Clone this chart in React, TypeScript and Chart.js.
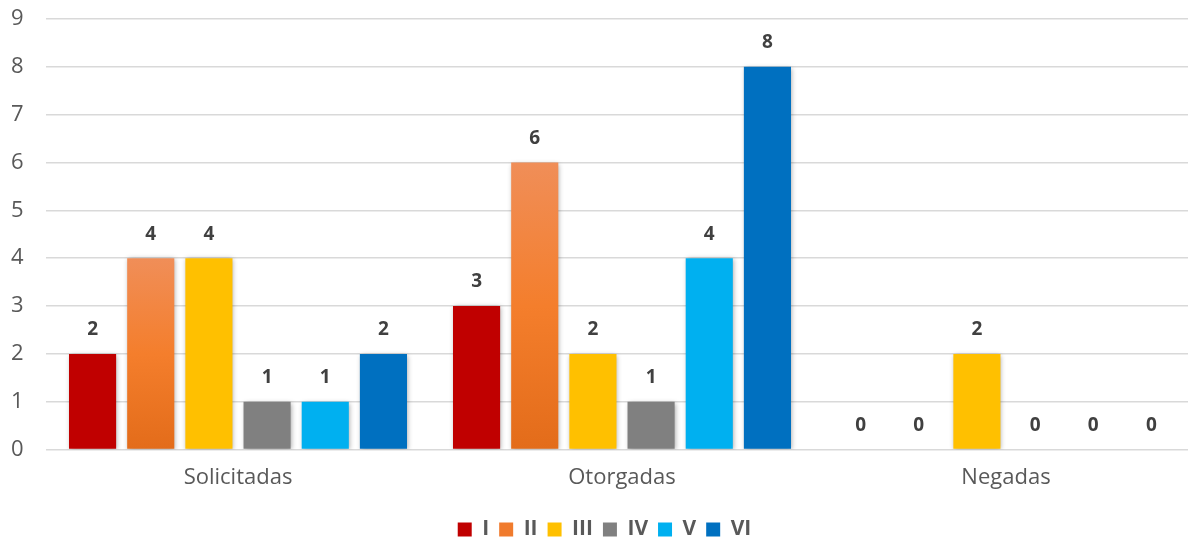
import React, { useEffect, useRef } from 'react';
import { Chart, ChartConfiguration, registerables, Plugin } from 'chart.js';

Chart.register(...registerables);

// Categories and series
const categories = ['Solicitadas', 'Otorgadas', 'Negadas'];
const seriesLabels = ['I', 'II', 'III', 'IV', 'V', 'VI'];
const serieI = [2, 3, 0];
const serieII = [4, 6, 0];
const serieIII = [4, 2, 2];
const serieIV = [1, 1, 0];
const serieV = [1, 4, 0];
const serieVI = [2, 8, 0];
const yTicks = [0, 1, 2, 3, 4, 5, 6, 7, 8, 9];

const FONT = "'Open Sans', 'DejaVu Sans', sans-serif";
const colors = ['#C00000', '#F07B2D', '#FFC000', '#808080', '#00B0F0', '#0070C0'];

// Bars get a soft drop shadow like the original Office chart
const shadowPlugin: Plugin<'bar'> = {
  id: 'barShadow',
  beforeDatasetDraw(chart) {
    const ctx = chart.ctx;
    ctx.save();
    ctx.shadowColor = 'rgba(0, 0, 0, 0.35)';
    ctx.shadowBlur = 5;
    ctx.shadowOffsetX = 1;
    ctx.shadowOffsetY = 1;
  },
  afterDatasetDraw(chart) {
    chart.ctx.restore();
  }
};

// Value labels above each bar
const valueLabels: Plugin<'bar'> = {
  id: 'valueLabels',
  afterDatasetsDraw(chart) {
    const ctx = chart.ctx;
    ctx.save();
    ctx.font = `bold 19px ${FONT}`;
    ctx.fillStyle = '#404040';
    ctx.textAlign = 'center';
    ctx.textBaseline = 'middle';
    chart.data.datasets.forEach((ds, i) => {
      const meta = chart.getDatasetMeta(i);
      meta.data.forEach((bar, j) => {
        const v = ds.data[j] as number;
        ctx.fillText(String(v), bar.x, bar.y - 24);
      });
    });
    ctx.restore();
  }
};

const App: React.FC = () => {
  const chartRef = useRef<HTMLCanvasElement>(null);
  const chartInstance = useRef<Chart | null>(null);

  useEffect(() => {
    document.body.style.margin = '0';
    if (!chartRef.current) return;
    if (chartInstance.current) chartInstance.current.destroy();
    const ctx = chartRef.current.getContext('2d');
    if (!ctx) return;

    const orangeGradient = (c: any) => {
      const chart = c.chart;
      const yScale = chart.scales && chart.scales.y;
      if (!chart.chartArea || !yScale || typeof c.raw !== 'number') return colors[1];
      const base = yScale.getPixelForValue(0);
      const top = yScale.getPixelForValue(c.raw);
      if (!Number.isFinite(base) || !Number.isFinite(top) || base - top < 1) return colors[1];
      const g = chart.ctx.createLinearGradient(0, top, 0, base);
      g.addColorStop(0, '#F08E58');
      g.addColorStop(0.5, '#F47E2C');
      g.addColorStop(1, '#E36C1A');
      return g;
    };

    const allData = [serieI, serieII, serieIII, serieIV, serieV, serieVI];

    const config: ChartConfiguration<'bar'> = {
      type: 'bar',
      data: {
        labels: categories,
        datasets: seriesLabels.map((label, i) => ({
          label,
          data: allData[i],
          backgroundColor: i === 1 ? orangeGradient : colors[i],
          borderWidth: 0,
          categoryPercentage: 0.909,
          barPercentage: 0.81
        }))
      },
      options: {
        responsive: true,
        maintainAspectRatio: false,
        animation: false,
        layout: {
          padding: { top: 19, right: 0, left: 11, bottom: -8 }
        },
        plugins: {
          tooltip: { enabled: false },
          legend: {
            position: 'bottom',
            labels: {
              boxWidth: 14,
              boxHeight: 14,
              padding: 10,
              color: '#595959',
              font: { family: FONT, size: 21, weight: 'bold' },
              generateLabels: (chart) =>
                chart.data.datasets.map((ds, i) => ({
                  text: ds.label as string,
                  fillStyle: colors[i],
                  strokeStyle: colors[i],
                  lineWidth: 0,
                  hidden: false,
                  datasetIndex: i,
                  fontColor: '#595959'
                }))
            }
          }
        },
        scales: {
          x: {
            grid: { display: false, drawTicks: false },
            border: { display: false },
            ticks: {
              color: '#595959',
              font: { family: FONT, size: 22 },
              padding: 15
            },
            afterFit: (axis) => {
              axis.height += 3;
            }
          },
          y: {
            min: 0,
            max: 9,
            afterBuildTicks: (axis) => {
              axis.ticks = yTicks.map(v => ({ value: v }));
            },
            afterFit: (axis) => {
              axis.width = 35;
            },
            grid: { color: '#D9D9D9', lineWidth: 1.5, drawTicks: false },
            border: { display: false },
            ticks: {
              color: '#595959',
              font: { family: FONT, size: 22 },
              padding: 0,
              crossAlign: 'far'
            }
          }
        }
      },
      plugins: [shadowPlugin, valueLabels]
    };

    chartInstance.current = new Chart(ctx, config);

    return () => {
      if (chartInstance.current) {
        chartInstance.current.destroy();
        chartInstance.current = null;
      }
    };
  }, []);

  // plot area runs slightly past the right edge, as in the original
  return (
    <div style={{ width: '1188px', height: '542px', overflow: 'hidden', background: '#fff' }}>
      <div style={{ position: 'relative', width: '1198px', height: '542px' }}>
        <canvas ref={chartRef} />
      </div>
    </div>
  );
};

export default App;
